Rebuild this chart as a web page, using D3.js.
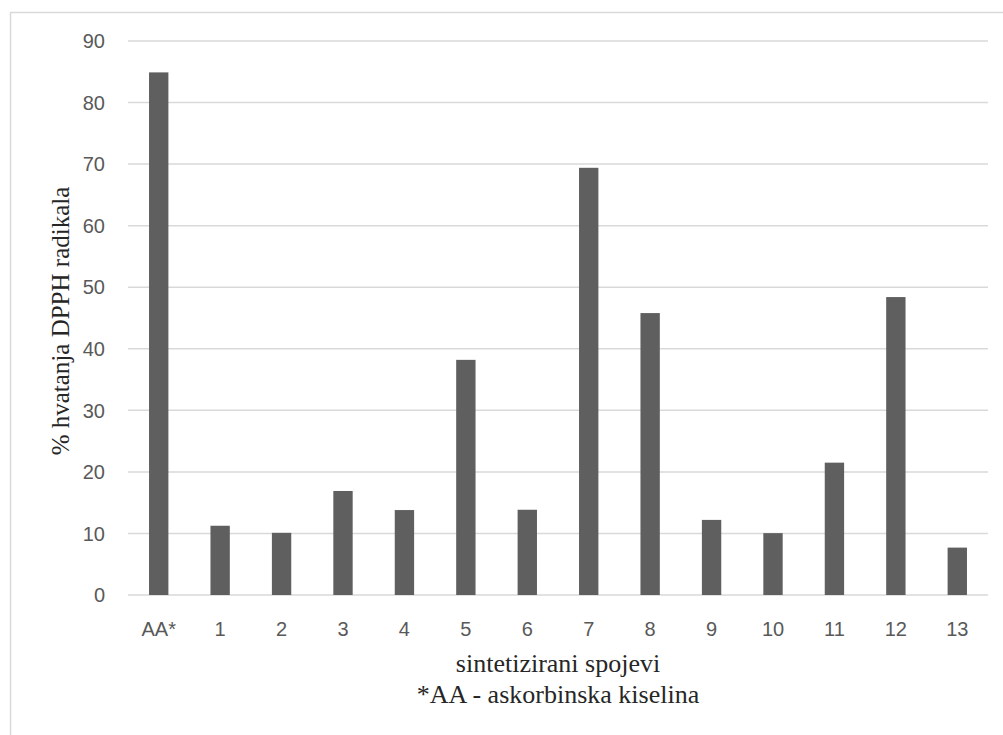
<!DOCTYPE html>
<html>
<head>
<meta charset="utf-8">
<script src="https://cdn.jsdelivr.net/npm/d3@7"></script>
<style>
  body { margin: 0; background: #fff; }
  svg { display: block; }
  .serif { font-family: "Liberation Serif", "Times New Roman", "DejaVu Serif", serif; }
  .sans { font-family: "Liberation Sans", Arial, sans-serif; }
</style>
</head>
<body>
<div id="chart"></div>
<script>
// categories and measured values (% DPPH scavenging)
var categories = ["AA*", "1", "2", "3", "4", "5", "6", "7", "8", "9", "10", "11", "12", "13"];
var values = [84.9, 11.25, 10.1, 16.9, 13.8, 38.2, 13.85, 69.4, 45.8, 12.2, 10.05, 21.5, 48.4, 7.7];
var yTicks = [0, 10, 20, 30, 40, 50, 60, 70, 80, 90];

var width = 1003, height = 735;
var plot = { left: 128, right: 988, top: 41, bottom: 595 };

var svg = d3.select("#chart").append("svg")
  .attr("width", width)
  .attr("height", height);

// chart area border (runs off the right and bottom edges)
svg.append("rect")
  .attr("x", 10.5).attr("y", 12.5)
  .attr("width", 1100).attr("height", 800)
  .attr("fill", "none")
  .attr("stroke", "#d9d9d9")
  .attr("stroke-width", 1.5);

var x = d3.scaleBand()
  .domain(categories)
  .range([plot.left, plot.right])
  .paddingInner(0.685)
  .paddingOuter(0.3425);

var y = d3.scaleLinear()
  .domain([0, 90])
  .range([plot.bottom, plot.top]);

// gridlines
svg.append("g")
  .selectAll("line")
  .data(yTicks)
  .join("line")
  .attr("x1", plot.left).attr("x2", plot.right)
  .attr("y1", d => y(d)).attr("y2", d => y(d))
  .attr("stroke", "#d9d9d9")
  .attr("stroke-width", 1.5);

// y tick labels
svg.append("g")
  .selectAll("text")
  .data(yTicks)
  .join("text")
  .attr("class", "sans")
  .attr("x", 105)
  .attr("y", d => y(d))
  .attr("dy", "0.36em")
  .attr("text-anchor", "end")
  .attr("font-size", 20)
  .attr("fill", "#595959")
  .text(d => d);

// bars
svg.append("g")
  .selectAll("rect")
  .data(values)
  .join("rect")
  .attr("x", (d, i) => x(categories[i]))
  .attr("y", d => y(d))
  .attr("width", x.bandwidth())
  .attr("height", d => y(0) - y(d))
  .attr("fill", "#5f5f5f");

// x tick labels
svg.append("g")
  .selectAll("text")
  .data(categories)
  .join("text")
  .attr("class", "sans")
  .attr("x", d => x(d) + x.bandwidth() / 2)
  .attr("y", 636)
  .attr("text-anchor", "middle")
  .attr("font-size", 20)
  .attr("fill", "#595959")
  .text(d => d);

// axis titles
var midX = (plot.left + plot.right) / 2;
svg.append("text")
  .attr("class", "serif")
  .attr("x", midX).attr("y", 672)
  .attr("text-anchor", "middle")
  .attr("font-size", 26)
  .attr("fill", "#262626")
  .text("sintetizirani spojevi");

svg.append("text")
  .attr("class", "serif")
  .attr("x", midX).attr("y", 703)
  .attr("text-anchor", "middle")
  .attr("font-size", 26)
  .attr("fill", "#262626")
  .text("*AA - askorbinska kiselina");

svg.append("text")
  .attr("class", "serif")
  .attr("transform", "translate(69," + ((plot.top + plot.bottom) / 2 + 3) + ") rotate(-90)")
  .attr("text-anchor", "middle")
  .attr("font-size", 25)
  .attr("fill", "#262626")
  .text("% hvatanja DPPH radikala");
</script>
</body>
</html>
